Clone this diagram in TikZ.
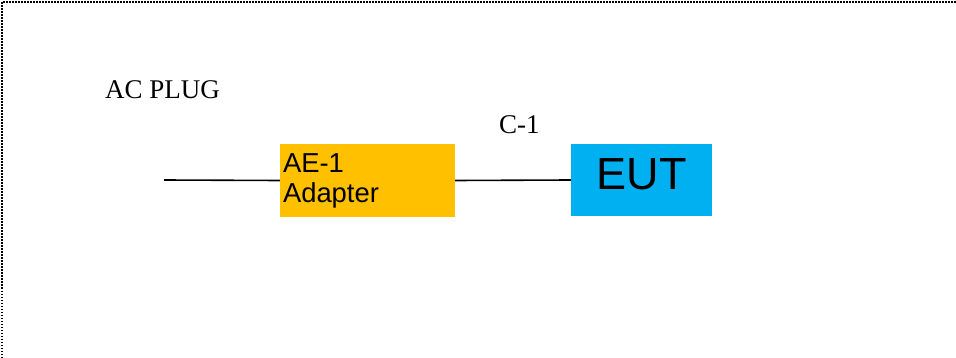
\documentclass[tikz,border=0pt]{standalone}
\usepackage{fontspec}
\setmainfont{Liberation Serif}
\newfontfamily\arialfont{Liberation Sans}
\usepackage{tikz}
\definecolor{aeorange}{HTML}{FFC000}
\definecolor{eutblue}{HTML}{00B0F0}

\begin{document}
\begin{tikzpicture}[x=1pt,y=-1pt,
  box/.style={draw=none,minimum width=175pt,minimum height=73pt,inner sep=3pt},
  note/.style={anchor=base west,inner sep=0pt,font=\fontsize{27}{30}\selectfont},
  wire/.style={line width=1.6pt}]
\useasboundingbox (0,0) rectangle (956,358);
\draw[line width=2pt,dash pattern=on 1.5pt off 1.5pt,color=black] (2,358) -- (2,2) -- (956,2);
\node at (367.5,180.5) [box,fill=aeorange,text width=169pt,align=left,font=\arialfont\fontsize{27.4}{30}\selectfont] (AE) {AE-1\\Adapter};
\node at (641.5,180) [box,minimum width=141pt,minimum height=72pt,fill=eutblue,text depth=12pt,font=\arialfont\fontsize{45}{50}\selectfont] (EUT) {EUT};
\node at (105,99) [note] (plug) {AC PLUG};
\node at (499,134) [note] (C) {C-1};
\coordinate (ac) at (164,180);
\draw[wire] (ac) -- (AE.west);
\draw[wire] (AE.east) -- (EUT.west);
\end{tikzpicture}
\end{document}
